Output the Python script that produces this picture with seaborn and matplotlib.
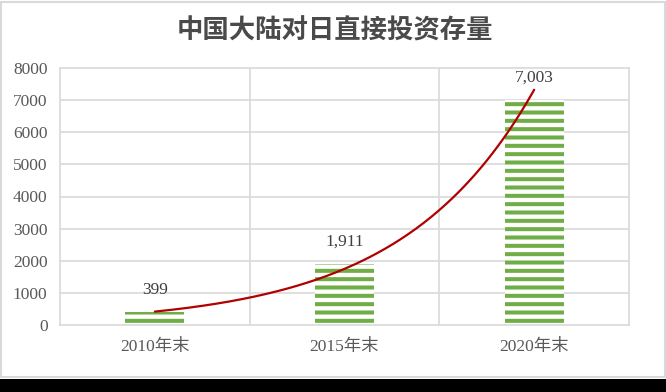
import numpy as np
import pandas as pd
import seaborn as sns
import matplotlib.pyplot as plt
from matplotlib.patches import Rectangle

# data
years = ["2010年末", "2015年末", "2020年末"]
stock = [399, 1911, 7003]
title = "中国大陆对日直接投资存量"

sns.set_theme(style="white")
plt.rcParams["font.family"] = ["Liberation Serif", "Noto Sans CJK SC"]
plt.rcParams["hatch.linewidth"] = 2.9

green = "#70ad47"
grid_c = "#d9d9d9"
text_c = "#595959"

df = pd.DataFrame({"year": years, "stock": stock})

fig = plt.figure(figsize=(6.66, 3.92), dpi=100)
# chart frame and bottom strip
fig.patches.append(Rectangle((1 / 666, 15 / 392), 664 / 666, 375 / 392, transform=fig.transFigure,
                             fill=False, edgecolor=grid_c, lw=1.5))
fig.patches.append(Rectangle((0, 0), 1, 13.5 / 392, transform=fig.transFigure,
                             facecolor="black", edgecolor="none"))

ax = fig.add_axes([60 / 666, 67 / 392, 569 / 666, 257 / 392])
sns.barplot(data=df, x="year", y="stock", ax=ax, width=0.31, color=green)
for p in ax.patches:
    p.set_facecolor("white")
    p.set_edgecolor(green)
    p.set_linewidth(0)
    p.set_hatch("--")

# exponential trendline
xi = np.arange(len(stock))
b, a = np.polyfit(xi, np.log(stock), 1)
xs = np.linspace(0, len(stock) - 1, 200)
ax.plot(xs, np.exp(a + b * xs), color="#b00000", lw=1.6, zorder=5)

for i, v in enumerate(stock):
    ax.annotate(f"{v:,}", (i, v), xytext=(0, 10), textcoords="offset points",
                ha="center", va="bottom", fontsize=12.5, color="#404040")

ax.set_xlim(-0.5, 2.5)
ax.set_ylim(0, 8000)
ax.set_yticks(range(0, 8001, 1000))
ax.set_yticklabels([str(t) for t in range(0, 8001, 1000)])
for y in range(1000, 8000, 1000):
    ax.axhline(y, color=grid_c, lw=1.2, zorder=0)
for x in [0.5, 1.5]:
    ax.axvline(x, color=grid_c, lw=1.2, zorder=0)
for s in ax.spines.values():
    s.set_color(grid_c)
    s.set_linewidth(1.2)
ax.tick_params(axis="y", length=0, pad=9, labelsize=12.5, labelcolor=text_c)
ax.tick_params(axis="x", length=0, pad=10, labelsize=12.5, labelcolor=text_c)
ax.set_xlabel("")
ax.set_ylabel("")

fig.text(335 / 666, 1 - 31 / 392, title, ha="center", va="center", fontsize=19,
         fontweight="bold", color="#4a4a4a", family=["Noto Sans CJK SC", "DejaVu Sans"])

fig.savefig("out.png", dpi=100)
